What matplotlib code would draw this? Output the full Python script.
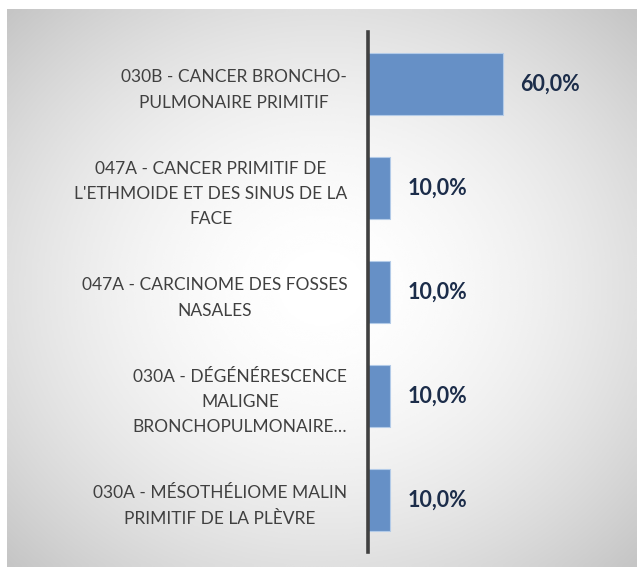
import numpy as np
import matplotlib.pyplot as plt

# data (top to bottom)
labels = [
    "030B - CANCER BRONCHO-\nPULMONAIRE PRIMITIF",
    "047A - CANCER PRIMITIF DE\nL'ETHMOIDE ET DES SINUS DE LA\nFACE",
    "047A - CARCINOME DES FOSSES\nNASALES",
    "030A - DÉGÉNÉRESCENCE\nMALIGNE\nBRONCHOPULMONAIRE…",
    "030A - MÉSOTHÉLIOME MALIN\nPRIMITIF DE LA PLÈVRE",
]
values = [60.0, 10.0, 10.0, 10.0, 10.0]

W, H = 637, 567
fig = plt.figure(figsize=(W / 100, H / 100), dpi=100)
fig.patch.set_facecolor("white")

# radial gradient background panel
bg = fig.add_axes([7 / W, 0, 1 - 7 / W, 1 - 9 / H])
yy, xx = np.mgrid[-1:1:300j, -1:1:340j]
r = np.sqrt(xx ** 2 + yy ** 2) / np.sqrt(2)
shade = 1.0 - 0.23 * np.clip(r, 0, 1) ** 1.8
bg.imshow(shade, cmap="gray", vmin=0, vmax=1, aspect="auto",
          extent=[0, 1, 0, 1], interpolation="bicubic")
bg.set_axis_off()

# chart area
x0, x1 = 368, 622
y_top, y_bot = 32, 552
ax = fig.add_axes([x0 / W, 1 - y_bot / H, (x1 - x0) / W, (y_bot - y_top) / H])
ax.patch.set_alpha(0)

pos = np.arange(len(values))
ax.barh(pos, values, height=0.6, color="#6690c6", edgecolor="#b3cbe8",
        linewidth=0.8, zorder=2)
ax.set_ylim(len(values) - 0.5, -0.5)
ax.set_xlim(0, 113)

for p, v in zip(pos, values):
    ax.text(v + 7.5, p, f"{v:.1f}%".replace(".", ","), va="center", ha="left",
            fontsize=15.5, fontweight="bold", color="#1c2d4a", family="Lato")

ax.set_yticks(pos)
ax.set_yticklabels(labels, fontsize=12.5, color="#404040", family="Lato",
                   multialignment="center", linespacing=1.7)
ax.tick_params(axis="y", length=0, pad=15)
ax.set_xticks([])

for s in ["top", "right", "bottom"]:
    ax.spines[s].set_visible(False)
ax.spines["left"].set_color("#404040")
ax.spines["left"].set_linewidth(2.6)

fig.savefig("out.png", dpi=100)
